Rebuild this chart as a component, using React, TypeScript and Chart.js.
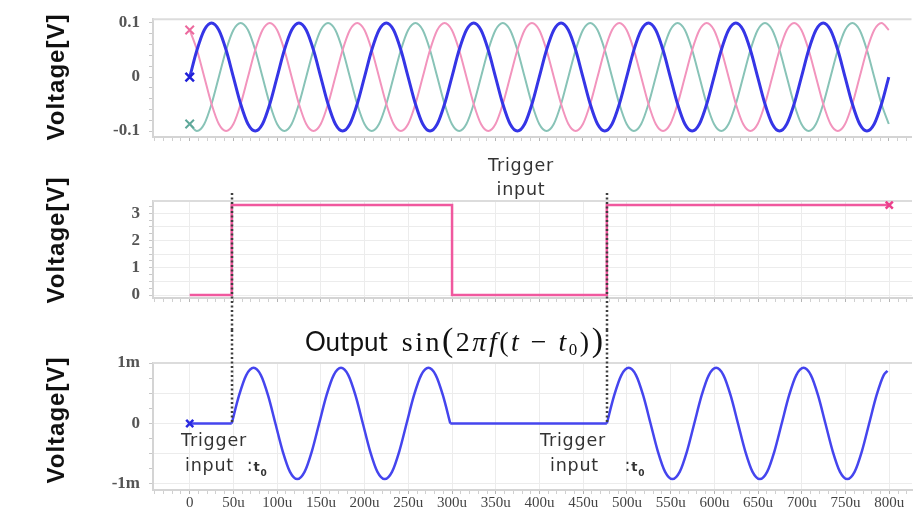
import React, { useEffect, useRef } from 'react';
import { Chart, registerables } from 'chart.js';

Chart.register(...registerables);

// ---------- data (time in µs) ----------
const TOP_TIME = [
  0, 8.33, 16.67, 25, 33.33, 41.67, 50, 58.33, 66.67, 75, 83.33, 91.67,
  100, 108.33, 116.67, 125, 133.33, 141.67, 150, 158.33, 166.67, 175, 183.33, 191.67,
  200, 208.33, 216.67, 225, 233.33, 241.67, 250, 258.33, 266.67, 275, 283.33, 291.67,
  300, 308.33, 316.67, 325, 333.33, 341.67, 350, 358.33, 366.67, 375, 383.33, 391.67,
  400, 408.33, 416.67, 425, 433.33, 441.67, 450, 458.33, 466.67, 475, 483.33, 491.67,
  500, 508.33, 516.67, 525, 533.33, 541.67, 550, 558.33, 566.67, 575, 583.33, 591.67,
  600, 608.33, 616.67, 625, 633.33, 641.67, 650, 658.33, 666.67, 675, 683.33, 691.67,
  700, 708.33, 716.67, 725, 733.33, 741.67, 750, 758.33, 766.67, 775, 783.33, 791.67,
  800,
];

const PHASE_BLUE = [
  0, 0.05, 0.087, 0.1, 0.087, 0.05, 0, -0.05, -0.087, -0.1, -0.087, -0.05,
  0, 0.05, 0.087, 0.1, 0.087, 0.05, 0, -0.05, -0.087, -0.1, -0.087, -0.05,
  0, 0.05, 0.087, 0.1, 0.087, 0.05, 0, -0.05, -0.087, -0.1, -0.087, -0.05,
  0, 0.05, 0.087, 0.1, 0.087, 0.05, 0, -0.05, -0.087, -0.1, -0.087, -0.05,
  0, 0.05, 0.087, 0.1, 0.087, 0.05, 0, -0.05, -0.087, -0.1, -0.087, -0.05,
  0, 0.05, 0.087, 0.1, 0.087, 0.05, 0, -0.05, -0.087, -0.1, -0.087, -0.05,
  0, 0.05, 0.087, 0.1, 0.087, 0.05, 0, -0.05, -0.087, -0.1, -0.087, -0.05,
  0, 0.05, 0.087, 0.1, 0.087, 0.05, 0, -0.05, -0.087, -0.1, -0.087, -0.05,
  0,
];

const PHASE_PINK = [
  0.087, 0.05, 0, -0.05, -0.087, -0.1, -0.087, -0.05, 0, 0.05, 0.087, 0.1,
  0.087, 0.05, 0, -0.05, -0.087, -0.1, -0.087, -0.05, 0, 0.05, 0.087, 0.1,
  0.087, 0.05, 0, -0.05, -0.087, -0.1, -0.087, -0.05, 0, 0.05, 0.087, 0.1,
  0.087, 0.05, 0, -0.05, -0.087, -0.1, -0.087, -0.05, 0, 0.05, 0.087, 0.1,
  0.087, 0.05, 0, -0.05, -0.087, -0.1, -0.087, -0.05, 0, 0.05, 0.087, 0.1,
  0.087, 0.05, 0, -0.05, -0.087, -0.1, -0.087, -0.05, 0, 0.05, 0.087, 0.1,
  0.087, 0.05, 0, -0.05, -0.087, -0.1, -0.087, -0.05, 0, 0.05, 0.087, 0.1,
  0.087, 0.05, 0, -0.05, -0.087, -0.1, -0.087, -0.05, 0, 0.05, 0.087, 0.1,
  0.087,
];

const PHASE_GREEN = [
  -0.087, -0.1, -0.087, -0.05, 0, 0.05, 0.087, 0.1, 0.087, 0.05, 0, -0.05,
  -0.087, -0.1, -0.087, -0.05, 0, 0.05, 0.087, 0.1, 0.087, 0.05, 0, -0.05,
  -0.087, -0.1, -0.087, -0.05, 0, 0.05, 0.087, 0.1, 0.087, 0.05, 0, -0.05,
  -0.087, -0.1, -0.087, -0.05, 0, 0.05, 0.087, 0.1, 0.087, 0.05, 0, -0.05,
  -0.087, -0.1, -0.087, -0.05, 0, 0.05, 0.087, 0.1, 0.087, 0.05, 0, -0.05,
  -0.087, -0.1, -0.087, -0.05, 0, 0.05, 0.087, 0.1, 0.087, 0.05, 0, -0.05,
  -0.087, -0.1, -0.087, -0.05, 0, 0.05, 0.087, 0.1, 0.087, 0.05, 0, -0.05,
  -0.087, -0.1, -0.087, -0.05, 0, 0.05, 0.087, 0.1, 0.087, 0.05, 0, -0.05,
  -0.087,
];

const TRIGGER_TIME = [0, 48, 48, 300, 300, 477, 477, 800];
const TRIGGER_VOLT = [0, 0, 3.3, 3.3, 0, 0, 3.3, 3.3];
const TRIGGER_EDGES = [48, 477];

// output in mV
const OUT_FLAT1_TIME = [0, 48];
const OUT_FLAT1_MV = [0, 0];
const OUT_SINE1_TIME = [
  48, 56.33, 64.67, 73, 81.33, 89.67, 98, 106.33, 114.67, 123, 131.33, 139.67,
  148, 156.33, 164.67, 173, 181.33, 189.67, 198, 206.33, 214.67, 223, 231.33, 239.67,
  248, 256.33, 264.67, 273, 281.33, 289.67, 298,
];
const OUT_SINE1_MV = [
  0, 0.46, 0.8, 0.92, 0.8, 0.46, 0, -0.46, -0.8, -0.92, -0.8, -0.46,
  0, 0.46, 0.8, 0.92, 0.8, 0.46, 0, -0.46, -0.8, -0.92, -0.8, -0.46,
  0, 0.46, 0.8, 0.92, 0.8, 0.46, 0,
];
const OUT_FLAT2_TIME = [298, 477];
const OUT_FLAT2_MV = [0, 0];
const OUT_SINE2_TIME = [
  477, 485.33, 493.67, 502, 510.33, 518.67, 527, 535.33, 543.67, 552, 560.33, 568.67,
  577, 585.33, 593.67, 602, 610.33, 618.67, 627, 635.33, 643.67, 652, 660.33, 668.67,
  677, 685.33, 693.67, 702, 710.33, 718.67, 727, 735.33, 743.67, 752, 760.33, 768.67,
  777, 785.33, 793.67, 798,
];
const OUT_SINE2_MV = [
  0, 0.46, 0.8, 0.92, 0.8, 0.46, 0, -0.46, -0.8, -0.92, -0.8, -0.46,
  0, 0.46, 0.8, 0.92, 0.8, 0.46, 0, -0.46, -0.8, -0.92, -0.8, -0.46,
  0, 0.46, 0.8, 0.92, 0.8, 0.46, 0, -0.46, -0.8, -0.92, -0.8, -0.46,
  0, 0.46, 0.8, 0.87,
];

// ---------- ticks ----------
const X_LABEL_VALUES = [0, 50, 100, 150, 200, 250, 300, 350, 400, 450, 500, 550, 600, 650, 700, 750, 800];
const X_TICK_LABELS = ['0', '50u', '100u', '150u', '200u', '250u', '300u', '350u', '400u', '450u', '500u', '550u', '600u', '650u', '700u', '750u', '800u'];
const TOP_Y_VALUES = [-0.1, 0, 0.1];
const TOP_Y_LABELS = ['-0.1', '0', '0.1'];
const MID_Y_VALUES = [0, 1, 2, 3];
const MID_Y_LABELS = ['0', '1', '2', '3'];
const BOT_Y_VALUES = [-1, 0, 1];
const BOT_Y_LABELS = ['-1m', '0', '1m'];

// ---------- layout ----------
const X_MIN = -42;
const X_MAX = 826;
const Y_AXIS_WIDTH = 153;
const RIGHT_PAD = 8;

function steps(a: number, b: number, s: number) {
  const out: number[] = [];
  const n = Math.round((b - a) / s);
  for (let i = 0; i <= n; i++) out.push(Math.round((a + i * s) * 1e6) / 1e6);
  return out;
}
const isMult = (v: number, m: number) => Math.abs(v / m - Math.round(v / m)) < 1e-6;
const pts = (xs: number[], ys: number[]) => xs.map((x, i) => ({ x, y: ys[i] }));
function labelFor(values: number[], labels: string[], v: number) {
  const i = values.findIndex((t) => Math.abs(t - v) < 1e-9);
  return i >= 0 ? labels[i] : '';
}

function xScale(showLabels: boolean, gridOn: boolean, height: number) {
  return {
    type: 'linear',
    min: X_MIN,
    max: X_MAX,
    afterBuildTicks: (s: any) => {
      s.ticks = steps(-40, 820, 10).map((v) => ({ value: v }));
    },
    afterFit: (s: any) => {
      s.height = height;
    },
    grid: {
      color: (c: any) => (gridOn && c.tick && isMult(c.tick.value, 50) ? '#ececec' : 'rgba(0,0,0,0)'),
      tickColor: (c: any) => (c.tick && isMult(c.tick.value, 50) ? '#b5b5b5' : '#d0d0d0'),
      tickLength: 4,
      lineWidth: 1,
    },
    border: { display: true, color: '#d4d4d4', width: 2 },
    ticks: {
      display: showLabels,
      autoSkip: false,
      maxRotation: 0,
      padding: 0,
      color: '#444',
      font: { family: '"Liberation Serif"', size: 15 },
      callback: (v: any) => labelFor(X_LABEL_VALUES, X_TICK_LABELS, Number(v)),
    },
  };
}

function yScale(min: number, max: number, tickLo: number, tickHi: number, minorStep: number, gridStep: number, values: number[], labels: string[]) {
  return {
    type: 'linear',
    min,
    max,
    afterBuildTicks: (s: any) => {
      s.ticks = steps(tickLo, tickHi, minorStep).map((v) => ({ value: v }));
    },
    afterFit: (s: any) => {
      s.width = Y_AXIS_WIDTH;
    },
    grid: {
      color: (c: any) => (gridStep > 0 && c.tick && isMult(c.tick.value, gridStep) ? '#ececec' : 'rgba(0,0,0,0)'),
      tickColor: '#c8c8c8',
      tickLength: 4,
      lineWidth: 1,
    },
    border: { display: true, color: '#d4d4d4', width: 2 },
    ticks: {
      autoSkip: false,
      padding: 9,
      color: '#555',
      font: { family: '"Liberation Serif"', size: 17, weight: 'bold' },
      callback: (v: any) => labelFor(values, labels, Number(v)),
    },
  };
}

const topLinePlugin = {
  id: 'topLine',
  beforeDatasetsDraw(chart: any) {
    const { ctx, chartArea: a } = chart;
    ctx.save();
    ctx.strokeStyle = '#dcdcdc';
    ctx.lineWidth = 2;
    ctx.beginPath();
    ctx.moveTo(a.left, a.top);
    ctx.lineTo(a.right, a.top);
    ctx.stroke();
    ctx.restore();
  },
};

function triggerLinesPlugin(fromY: (c: any) => number, toY: (c: any) => number) {
  return {
    id: 'triggerLines',
    afterDatasetsDraw(chart: any) {
      const { ctx } = chart;
      const xs = chart.scales.x;
      ctx.save();
      ctx.strokeStyle = '#3f3f3f';
      ctx.lineWidth = 2.5;
      ctx.setLineDash([2, 2.5]);
      TRIGGER_EDGES.forEach((t) => {
        const px = Math.round(xs.getPixelForValue(t));
        ctx.beginPath();
        ctx.moveTo(px, fromY(chart));
        ctx.lineTo(px, toY(chart));
        ctx.stroke();
      });
      ctx.restore();
    },
  };
}

const firstOnly = (r: number) => (c: any) => (c.dataIndex === 0 ? r : 0);

function baseOptions(padTop: number, scales: any) {
  return {
    animation: false,
    responsive: false,
    devicePixelRatio: 1,
    layout: { padding: { top: padTop, right: RIGHT_PAD, left: 0, bottom: 0 } },
    plugins: { legend: { display: false }, tooltip: { enabled: false }, title: { display: false } },
    events: [],
    scales,
  };
}

const W = 920;
const H_TOP = 160;
const H_MID = 170;
const H_BOT = 189;

export default function App() {
  const topRef = useRef<HTMLCanvasElement>(null);
  const midRef = useRef<HTMLCanvasElement>(null);
  const botRef = useRef<HTMLCanvasElement>(null);

  useEffect(() => {
    const charts: Chart[] = [];

    charts.push(
      new Chart(topRef.current as HTMLCanvasElement, {
        type: 'line',
        data: {
          datasets: [
            {
              label: 'Phase blue',
              data: pts(TOP_TIME, PHASE_BLUE),
              borderColor: '#3535e6',
              borderWidth: 3,
              cubicInterpolationMode: 'monotone',
              pointStyle: 'crossRot',
              pointRadius: firstOnly(6),
              pointBorderWidth: 2.5,
              pointBorderColor: '#2020d8',
              pointBackgroundColor: '#2020d8',
            },
            {
              label: 'Phase pink',
              data: pts(TOP_TIME, PHASE_PINK),
              borderColor: '#f294bd',
              borderWidth: 2,
              cubicInterpolationMode: 'monotone',
              pointStyle: 'crossRot',
              pointRadius: firstOnly(6),
              pointBorderWidth: 2,
              pointBorderColor: '#ec6a9e',
              pointBackgroundColor: '#ec6a9e',
            },
            {
              label: 'Phase green',
              data: pts(TOP_TIME, PHASE_GREEN),
              borderColor: '#88c3b7',
              borderWidth: 2,
              cubicInterpolationMode: 'monotone',
              pointStyle: 'crossRot',
              pointRadius: firstOnly(6),
              pointBorderWidth: 2,
              pointBorderColor: '#5fa89a',
              pointBackgroundColor: '#5fa89a',
            },
          ],
        },
        options: baseOptions(17, {
          x: xScale(false, false, H_TOP - 137),
          y: yScale(-0.111, 0.107, -0.1, 0.1, 0.02, 0, TOP_Y_VALUES, TOP_Y_LABELS),
        }) as any,
        plugins: [topLinePlugin],
      })
    );

    charts.push(
      new Chart(midRef.current as HTMLCanvasElement, {
        type: 'line',
        data: {
          datasets: [
            {
              label: 'Trigger input',
              data: pts(TRIGGER_TIME, TRIGGER_VOLT),
              borderColor: '#f0589e',
              borderWidth: 2.5,
              tension: 0,
              pointStyle: 'crossRot',
              pointRadius: (c: any) => (c.dataIndex === TRIGGER_TIME.length - 1 ? 5 : 0),
              pointBorderWidth: 2.5,
              pointBorderColor: '#ec3f8c',
              pointBackgroundColor: '#ec3f8c',
            },
          ],
        },
        options: baseOptions(41, {
          x: xScale(false, true, H_MID - (298 - 160)),
          y: yScale(-0.11, 3.45, 0, 3.25, 0.25, 0.5, MID_Y_VALUES, MID_Y_LABELS),
        }) as any,
        plugins: [topLinePlugin, triggerLinesPlugin((c) => c.chartArea.top - 8, (c) => c.height)],
      })
    );

    const blue = '#4545ee';
    charts.push(
      new Chart(botRef.current as HTMLCanvasElement, {
        type: 'line',
        data: {
          datasets: [
            {
              label: 'Output hold 1',
              data: pts(OUT_FLAT1_TIME, OUT_FLAT1_MV),
              borderColor: blue,
              borderWidth: 2.5,
              tension: 0,
              pointStyle: 'crossRot',
              pointRadius: firstOnly(5),
              pointBorderWidth: 2.5,
              pointBorderColor: '#2a2ae0',
              pointBackgroundColor: '#2a2ae0',
            },
            {
              label: 'Output sine 1',
              data: pts(OUT_SINE1_TIME, OUT_SINE1_MV),
              borderColor: blue,
              borderWidth: 2.5,
              cubicInterpolationMode: 'monotone',
              pointRadius: 0,
            },
            {
              label: 'Output hold 2',
              data: pts(OUT_FLAT2_TIME, OUT_FLAT2_MV),
              borderColor: blue,
              borderWidth: 2.5,
              tension: 0,
              pointRadius: 0,
            },
            {
              label: 'Output sine 2',
              data: pts(OUT_SINE2_TIME, OUT_SINE2_MV),
              borderColor: blue,
              borderWidth: 2.5,
              cubicInterpolationMode: 'monotone',
              pointRadius: 0,
            },
          ],
        },
        options: baseOptions(33, {
          x: xScale(true, true, H_BOT - (490 - 330)),
          y: yScale(-1.1, 1.0, -1, 1, 0.25, 0.5, BOT_Y_VALUES, BOT_Y_LABELS),
        }) as any,
        plugins: [topLinePlugin, triggerLinesPlugin(() => 0, (c) => c.scales.y.getPixelForValue(0))],
      })
    );

    return () => charts.forEach((c) => c.destroy());
  }, []);

  const vLabel = (cy: number): React.CSSProperties => ({
    position: 'absolute',
    left: 56,
    top: cy,
    transform: 'translate(-50%, -50%) rotate(-90deg)',
    fontFamily: '"Liberation Sans", Arial, sans-serif',
    fontWeight: 'bold',
    fontSize: 24,
    letterSpacing: '1px',
    whiteSpace: 'nowrap',
    color: '#111',
  });
  const trig: React.CSSProperties = {
    position: 'absolute',
    fontFamily: '"DejaVu Sans", sans-serif',
    fontSize: 17.5,
    letterSpacing: '0.8px',
    color: '#333',
    whiteSpace: 'nowrap',
  };

  return (
    <div style={{ position: 'absolute', left: 0, top: 0, width: W, height: 519, background: '#fff', overflow: 'hidden' }}>
      <canvas ref={topRef} width={W} height={H_TOP} style={{ position: 'absolute', left: 0, top: 0, width: W, height: H_TOP }} />
      <canvas ref={midRef} width={W} height={H_MID} style={{ position: 'absolute', left: 0, top: H_TOP, width: W, height: H_MID }} />
      <canvas ref={botRef} width={W} height={H_BOT} style={{ position: 'absolute', left: 0, top: H_TOP + H_MID, width: W, height: H_BOT }} />

      <div style={vLabel(77)}>Voltage[V]</div>
      <div style={vLabel(240)}>Voltage[V]</div>
      <div style={vLabel(420)}>Voltage[V]</div>

      <div style={{ ...trig, left: 521, top: 153, transform: 'translateX(-50%)', textAlign: 'center', lineHeight: '24px' }}>
        Trigger
        <br />
        input
      </div>

      <div style={{ ...trig, left: 181, top: 430 }}>Trigger</div>
      <div style={{ ...trig, left: 185, top: 455 }}>
        input&nbsp;&nbsp;:<b style={{ fontSize: 13 }}>t</b>
        <sub style={{ fontSize: 9, fontWeight: 'bold' }}>0</sub>
      </div>
      <div style={{ ...trig, left: 540, top: 430 }}>Trigger</div>
      <div style={{ ...trig, left: 550, top: 455 }}>
        input&nbsp;&nbsp;&nbsp;&nbsp;:<b style={{ fontSize: 13 }}>t</b>
        <sub style={{ fontSize: 9, fontWeight: 'bold' }}>0</sub>
      </div>

      <div style={{ position: 'absolute', left: 305, top: 322, whiteSpace: 'nowrap', color: '#111', lineHeight: '36px' }}>
        <span style={{ font: '26px Lato' }}>Output</span>
        <span style={{ fontFamily: '"Liberation Serif", serif', fontSize: 28, letterSpacing: '2.5px', marginLeft: 14 }}>
          sin<span style={{ fontSize: 34 }}>(</span>2<i>π</i>
          <i>f</i>(<i>t</i>&nbsp;−&nbsp;<i>t</i>
          <sub style={{ fontSize: 17, verticalAlign: '-4px' }}>0</sub>)<span style={{ fontSize: 34 }}>)</span>
        </span>
      </div>
    </div>
  );
}
